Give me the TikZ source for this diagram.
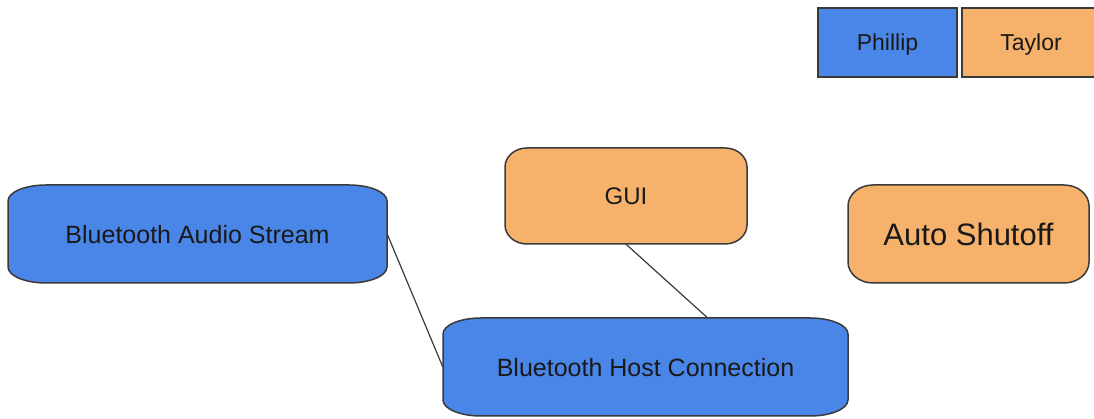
\documentclass[tikz,border=0pt]{standalone}
\usepackage{fontspec}
\setmainfont{Liberation Sans}
\usetikzlibrary{calc}

\definecolor{phillipBlue}{HTML}{4A86E8}
\definecolor{taylorOrange}{HTML}{F6B26B}
\definecolor{edgeGray}{HTML}{3A3A3A}

\tikzset{
	boxText/.style={text=black!90, inner sep=0pt, text depth=0pt},
	boxOutline/.style={draw=edgeGray, line width=1.5pt},
	keyBox/.style={boxOutline, boxText, minimum width=139pt, minimum height=69pt, font=\fontsize{23}{27}\selectfont},
	link/.style={draw=edgeGray, line width=1.2pt},
}

% box with elliptic corners: colour, x1, y1, x2, y2, rx, ry
\newcommand{\softBox}[7]{%
	\filldraw [boxOutline, fill=#1] (#2+#6,#3) -- (#4-#6,#3)
		arc [start angle=-90, end angle=0, x radius=#6, y radius=#7] -- (#4,#5-#7)
		arc [start angle=0, end angle=90, x radius=#6, y radius=#7] -- (#2+#6,#5)
		arc [start angle=90, end angle=180, x radius=#6, y radius=#7] -- (#2,#3+#7)
		arc [start angle=180, end angle=270, x radius=#6, y radius=#7] -- cycle;
}

\begin{document}
\begin{tikzpicture}[x=1pt, y=1pt]

	\useasboundingbox (0,0) rectangle (1094,419);

	% legend
	\node [keyBox, fill=phillipBlue] (phillipKey) at (887.5,376.5) {Phillip};
	\node [keyBox, fill=taylorOrange, minimum width=138pt] (taylorKey) at (1031,376.5) {Taylor};

	% Phillip's parts
	\softBox{phillipBlue}{8}{136}{387}{234}{38}{16}
	\node [boxText, minimum width=379pt, minimum height=98pt, font=\fontsize{25}{30}\selectfont] (audioStream) at (197.5,185) {Bluetooth Audio Stream};

	\softBox{phillipBlue}{443}{3}{848}{101}{38}{16}
	\node [boxText, minimum width=405pt, minimum height=98pt, font=\fontsize{25}{30}\selectfont] (hostLink) at (645.5,52) {Bluetooth Host Connection};

	% Taylor's parts
	\softBox{taylorOrange}{505}{175}{747}{271}{22}{19}
	\node [boxText, minimum width=242pt, minimum height=96pt, font=\fontsize{24}{28}\selectfont] (gui) at (626,223) {GUI};

	\softBox{taylorOrange}{848}{136}{1089}{234}{25}{21}
	\node [boxText, minimum width=241pt, minimum height=98pt, font=\fontsize{31}{36}\selectfont] (autoShutoff) at (968.5,185) {Auto Shutoff};

	% links
	\coordinate (guiFoot) at ($(hostLink.north)+(62,0)$);
	\draw [link] (audioStream.east) -- (hostLink.west);
	\draw [link] (gui.south) -- (guiFoot);

\end{tikzpicture}
\end{document}
